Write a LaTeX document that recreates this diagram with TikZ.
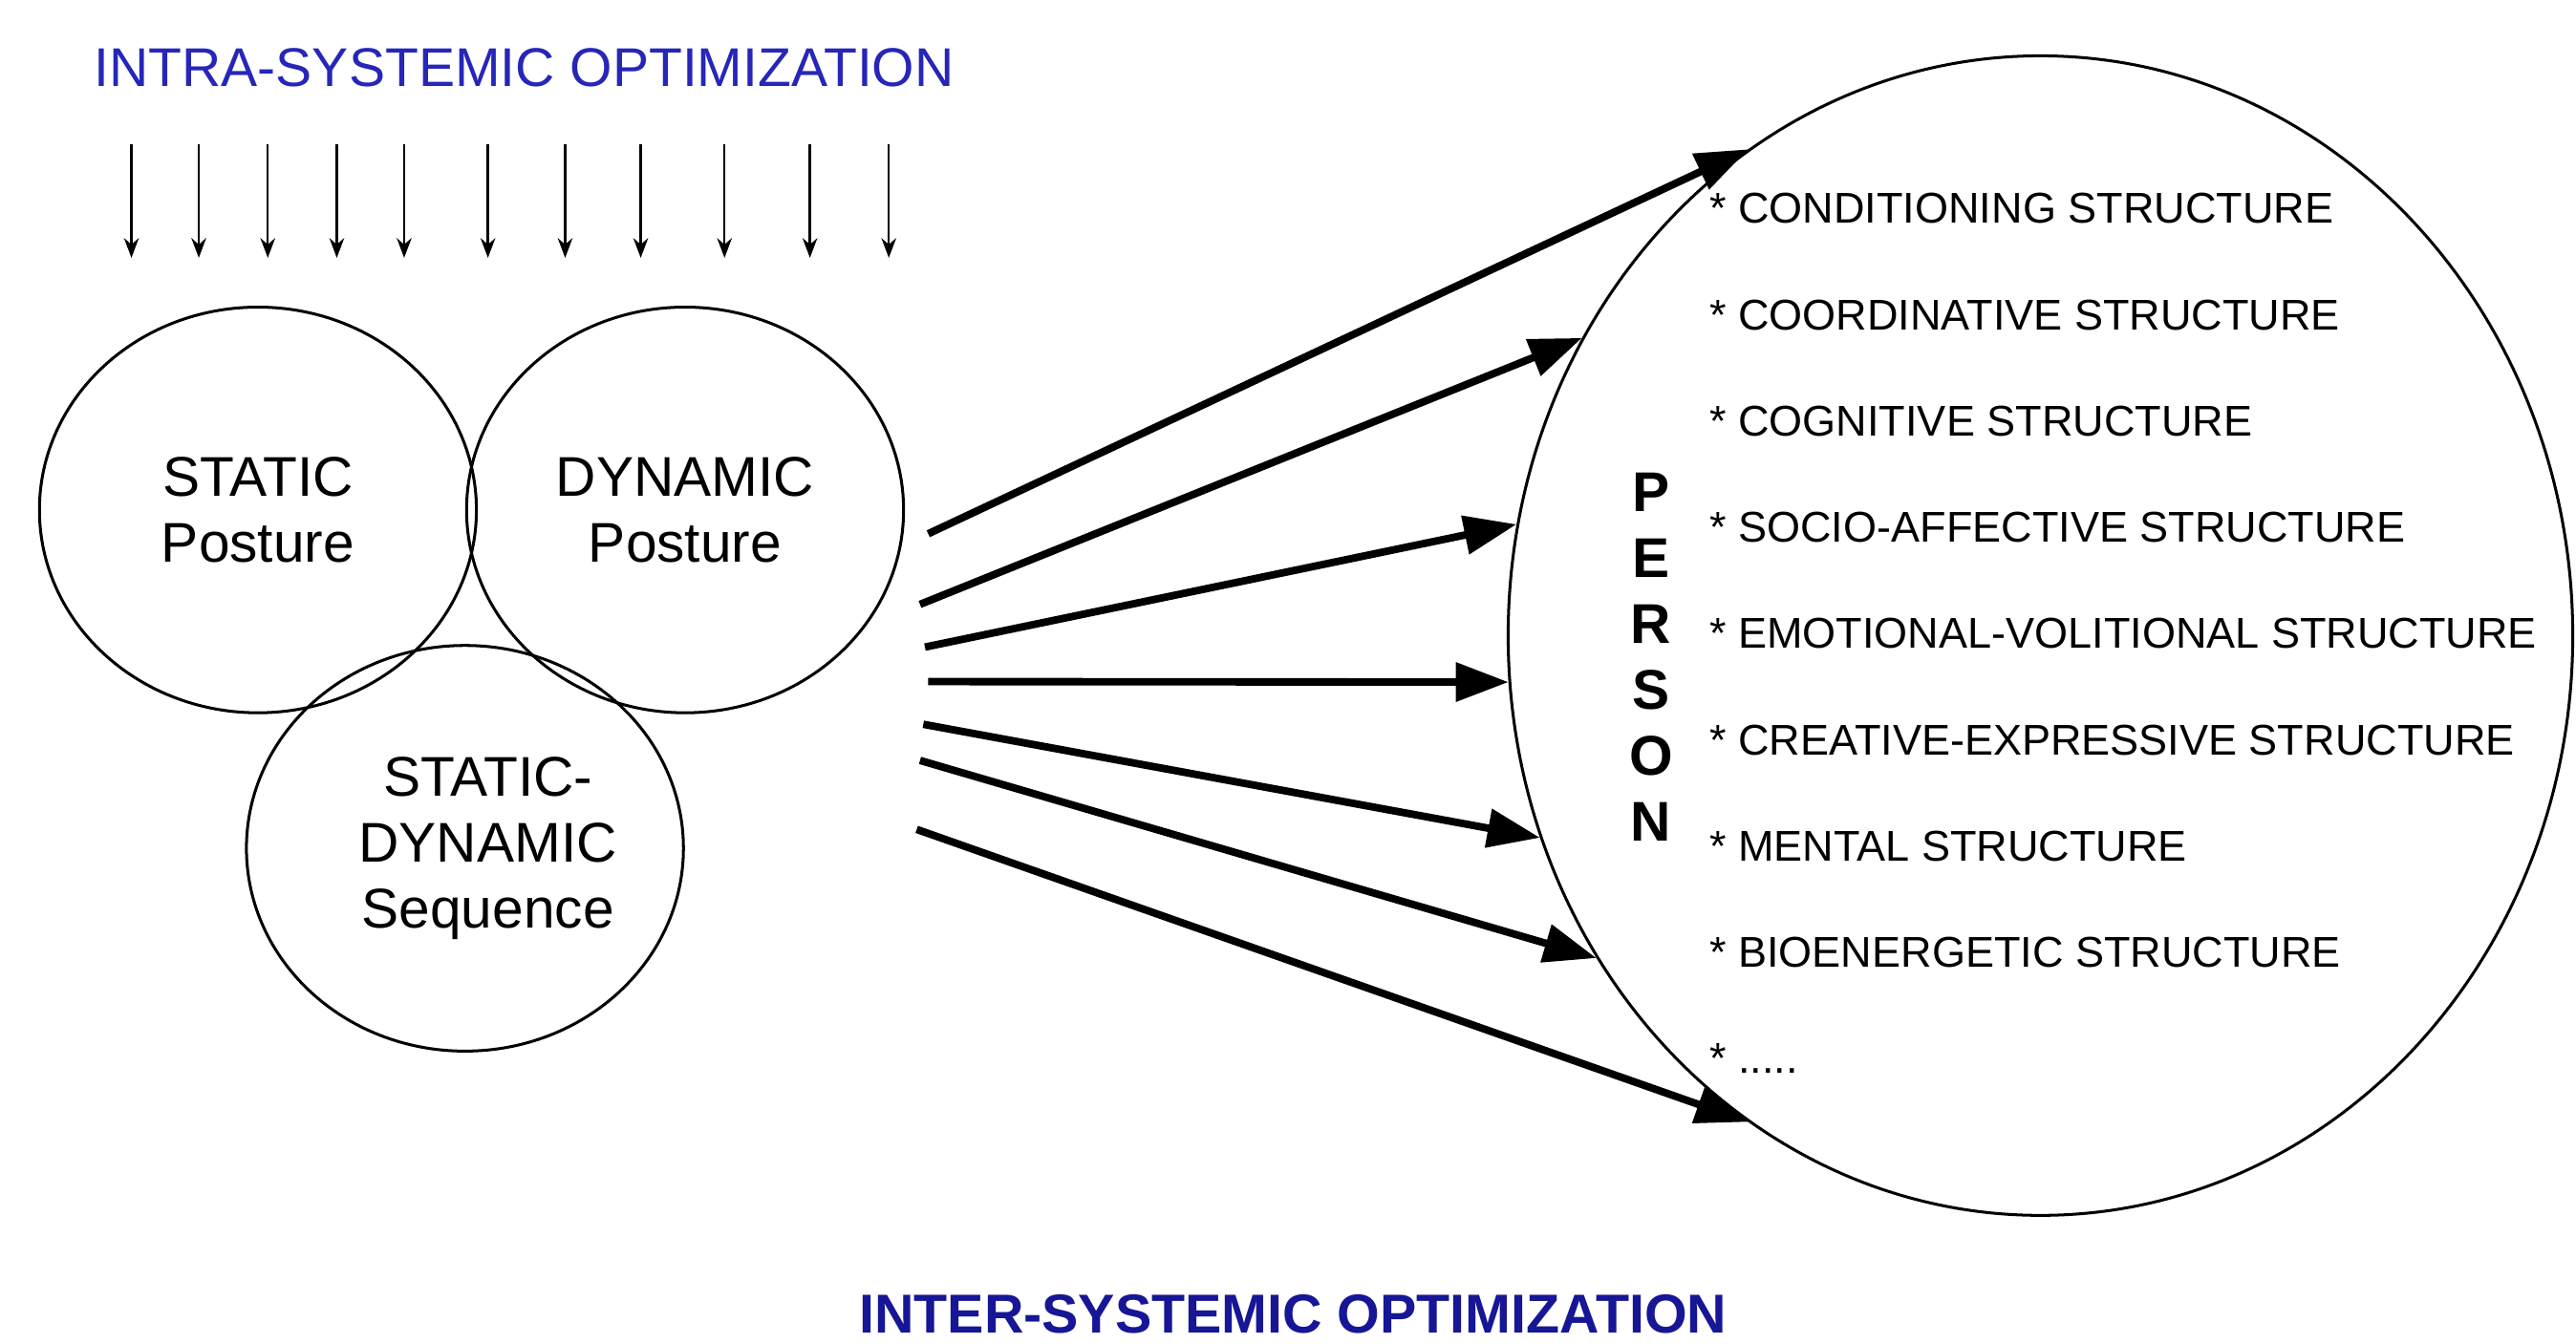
\documentclass[tikz,border=0pt]{standalone}
\usepackage{fontspec}
\setmainfont{Liberation Sans}
\usepackage{xcolor}
\usepackage{tikz}
\usetikzlibrary{shapes.geometric}
\usetikzlibrary{arrows.meta}
\usetikzlibrary{positioning}
\tikzset{>=stealth}
\definecolor{intrablue}{RGB}{38,38,185}
\definecolor{interblue}{RGB}{22,22,150}
\tikzset{
    posture/.style = {ellipse, draw, line width=0.5pt, minimum width=2.66cm, minimum height=2.47cm, inner sep=0pt},
    circtext/.style = {align=center, font=\fontsize{9.7}{11.4}\selectfont},
    structure/.style = {anchor=west, inner sep=0pt, font=\fontsize{7.45}{9}\selectfont},
    thinarrow/.style = {-{Stealth[length=1.2mm,width=0.9mm]}, line width=0.4pt},
    thickarrow/.style = {-{Triangle[length=3.2mm,width=2.3mm]}, line width=1.3pt},
}

\begin{document}
\begin{tikzpicture}
                \useasboundingbox (0,0) rectangle (15.68,-8.18);
                \node[font=\fontsize{9.45}{11.4}\selectfont, text=intrablue] (intra) at (3.19,-0.41) {INTRA-SYSTEMIC OPTIMIZATION};
                \foreach \x [count=\i] in {0.80,1.21,1.63,2.05,2.46,2.97,3.44,3.90,4.41,4.93,5.41}
                {
                    \coordinate (down\i) at (\x,-0.88);
                    \coordinate (hit\i) at (\x,-1.57);
                    \draw[thinarrow] (down\i) -- (hit\i);
                }
                \node[posture, circtext] (static) at (1.57,-3.105) {STATIC\\Posture};
                \node[posture, circtext] (dynamic) at (4.17,-3.105) {DYNAMIC\\Posture};
                \node[posture] (sequence) at (2.83,-5.165) {};
                \node[circtext] (seqtext) at ([xshift=1.4mm]sequence.center) {STATIC-\\DYNAMIC\\Sequence};
                \node[ellipse, draw, line width=0.5pt, minimum width=6.48cm, minimum height=7.06cm, inner sep=0pt] (person) at (12.42,-3.87) {};
                \node[align=center, font=\bfseries\fontsize{9.7}{11.4}\selectfont] (letters) at (10.05,-4.00) {P\\E\\R\\S\\O\\N};
                \foreach \s [count=\i] in {CONDITIONING STRUCTURE, COORDINATIVE STRUCTURE, COGNITIVE STRUCTURE,
                    SOCIO-AFFECTIVE STRUCTURE, EMOTIONAL-VOLITIONAL STRUCTURE, CREATIVE-EXPRESSIVE STRUCTURE,
                    MENTAL STRUCTURE, BIOENERGETIC STRUCTURE}
                    \node[structure] (item\i) at (10.40,{-1.27-0.647*(\i-1)}) {* \s};
                \node[structure] (item9) at (10.40,-6.446) {* .....};
                \foreach \i/\x/\y/\a in {1/5.65/-3.25/121, 2/5.60/-3.68/147, 3/5.63/-3.94/168, 4/5.65/-4.15/185,
                    5/5.62/-4.41/202, 6/5.60/-4.63/216, 7/5.58/-5.05/239}
                {
                    \coordinate (tail\i) at (\x,\y);
                    \draw[thickarrow] (tail\i) -- (person.\a);
                }
                \node[font=\bfseries\fontsize{9.5}{11.4}\selectfont, text=interblue] (inter) at (7.87,-8.00) {INTER-SYSTEMIC OPTIMIZATION};
            \end{tikzpicture}
\end{document}
